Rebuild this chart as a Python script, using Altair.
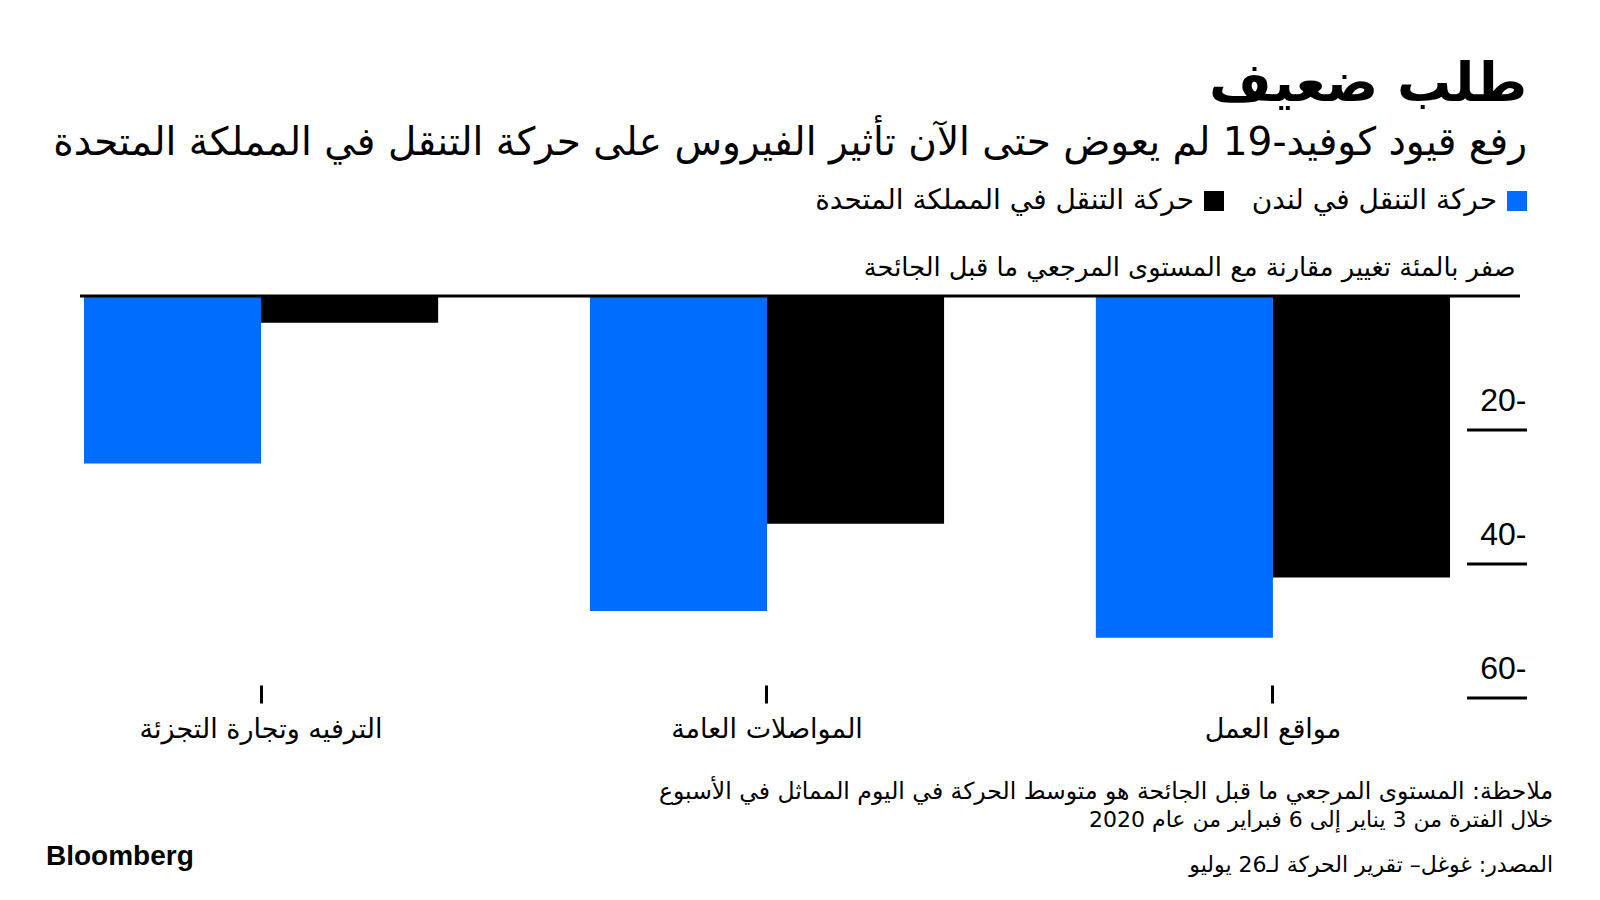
import altair as alt
import pandas as pd

categories = ["الترفيه وتجارة التجزئة", "المواصلات العامة", "مواقع العمل"]
series = ["حركة التنقل في لندن", "حركة التنقل في المملكة المتحدة"]
london = [-25, -47, -51]
uk = [-4, -34, -42]
tick_values = [-20, -40, -60]
tick_labels = ["20-", "40-", "60-"]
colors = ["#006dff", "#000000"]

title_text = "طلب ضعيف"
subtitle_text = "رفع قيود كوفيد-19 لم يعوض حتى الآن تأثير الفيروس على حركة التنقل في المملكة المتحدة"
y_title = "صفر بالمئة تغيير مقارنة مع المستوى المرجعي ما قبل الجائحة"
note1 = "ملاحظة: المستوى المرجعي ما قبل الجائحة هو متوسط الحركة في اليوم المماثل في الأسبوع"
note2 = "خلال الفترة من 3 يناير إلى 6 فبراير من عام 2020"
source = "المصدر: غوغل– تقرير الحركة لـ26 يوليو"

rows = []
for c, l, u in zip(categories, london, uk):
    rows.append({"cat": c, "series": series[0], "value": l})
    rows.append({"cat": c, "series": series[1], "value": u})
df = pd.DataFrame(rows)
ticks_df = pd.DataFrame({"value": tick_values})
zero_df = pd.DataFrame({"value": [0]})
dummy = pd.DataFrame({"d": [0]})

AR = "DejaVu Sans"
LAT = "Liberation Sans"
W, H = 1366, 402

label_expr = ""
for v, t in zip(tick_values, tick_labels):
    label_expr += f"datum.value == {v} ? '{t}' : "
label_expr += "''"

y_scale = alt.Scale(domain=[-60, 0], nice=False)
y_axis = alt.Axis(orient="right", values=tick_values, labelExpr=label_expr, ticks=False,
                  domain=False, grid=False, labelAlign="right", labelBaseline="middle",
                  labelPadding=76, labelOffset=-30, labelFont=LAT, labelFontSize=32,
                  labelColor="black", labelOverlap=False, title=y_title, titleAngle=0,
                  titleAlign="right", titleBaseline="middle", titleX=65, titleY=-29,
                  titleFont=AR, titleFontSize=25.7, titleFontWeight="normal",
                  titleColor="black", titleLimit=1200)

bars = alt.Chart(df).mark_bar().encode(
    x=alt.X("cat:N", sort=categories,
            scale=alt.Scale(paddingInner=0.3, paddingOuter=0),
            axis=alt.Axis(title=None, orient="bottom", offset=-13, tickSize=18, tickWidth=3,
                          tickColor="black", domain=False, labelFont=AR, labelFontSize=27,
                          labelColor="black", labelPadding=13, labelAngle=0, labelLimit=500,
                          labelOverlap=False)),
    xOffset=alt.XOffset("series:N", sort=series, scale=alt.Scale(paddingInner=0, paddingOuter=0)),
    y=alt.Y("value:Q", scale=y_scale, axis=y_axis),
    color=alt.Color("series:N", scale=alt.Scale(domain=series, range=colors), legend=None),
)

zero_line = alt.Chart(zero_df).mark_rule(color="black", strokeWidth=3).encode(
    y=alt.Y("value:Q", scale=y_scale, axis=y_axis),
    x=alt.value(-4), x2=alt.value(1436),
)

tick_rules = alt.Chart(ticks_df).mark_rule(color="black", strokeWidth=3).encode(
    y=alt.Y("value:Q", scale=y_scale, axis=y_axis),
    x=alt.value(1383), x2=alt.value(1443),
)

def txt(text, x, y, size, align="right", font=AR, weight="normal"):
    return alt.Chart(dummy).mark_text(
        x=x, y=y, align=align, baseline="middle", font=font, fontSize=size,
        fontWeight=weight, color="black"
    ).encode(text=alt.value(text))

leg_sq1 = alt.Chart(dummy).mark_square(x=1433, y=-95, size=400, color=colors[0], opacity=1).encode(
    shape=alt.value("square"))
leg_sq2 = alt.Chart(dummy).mark_square(x=1130, y=-95, size=400, color=colors[1], opacity=1).encode(
    shape=alt.value("square"))
leg_t1 = txt(series[0], 1413, -95, 28)
leg_t2 = txt(series[1], 1110, -95, 28)

n1 = txt(note1, 1469, 496, 23.5)
n2 = txt(note2, 1469, 524, 22)
src = txt(source, 1469, 569, 22)
bbg = txt("Bloomberg", -38, 561, 28, align="left", font=LAT, weight="bold")

chart = alt.layer(
    bars, zero_line, tick_rules, leg_sq1, leg_sq2, leg_t1, leg_t2, n1, n2, src, bbg
).properties(
    width=W, height=H,
    padding={"left": 84, "top": 296, "right": 150, "bottom": 202},
    autosize=alt.AutoSizeParams(type="none"),
    background="white",
    title=alt.TitleParams(
        text=title_text, subtitle=subtitle_text, anchor="end", frame="group", dx=77,
        offset=24, font=AR, fontSize=54, fontWeight="bold", color="black",
        subtitleFont=AR, subtitleFontSize=39, subtitleColor="black", subtitlePadding=12,
    ),
).configure_view(stroke=None)

chart.save("out.html", embed_options={"renderer": "svg", "actions": False})
